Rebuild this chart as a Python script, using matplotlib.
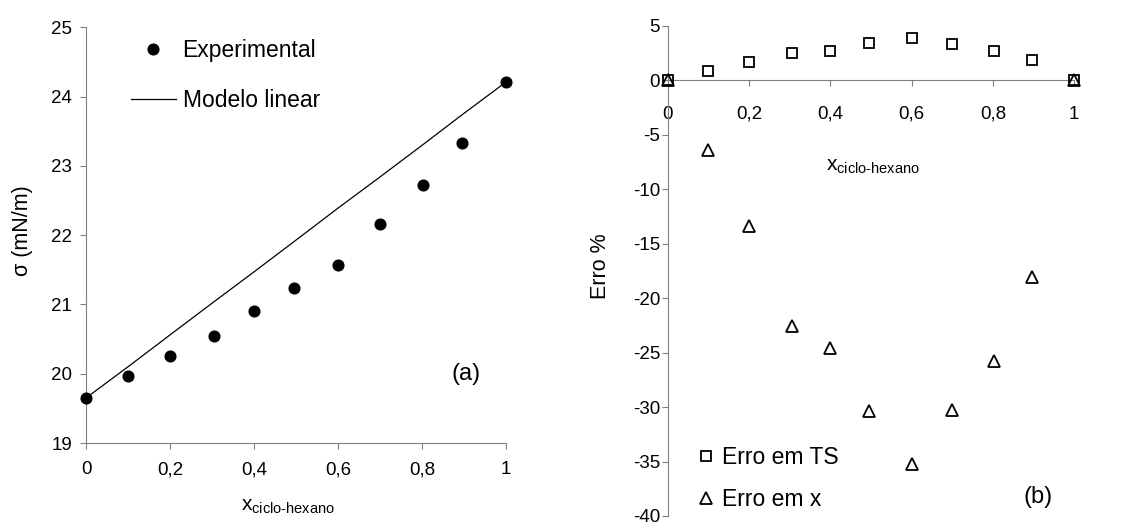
import numpy as np
import matplotlib
matplotlib.use("Agg")
from matplotlib import pyplot as plt

# panel (a): surface tension vs mole fraction
x_exp = [0, 0.1, 0.2, 0.305, 0.4, 0.496, 0.6, 0.7, 0.803, 0.896, 1.0]
sigma_exp = [19.65, 19.96, 20.25, 20.54, 20.91, 21.23, 21.57, 22.16, 22.72, 23.33, 24.21]
sigma_lin = [19.65, 20.10, 20.56, 21.04, 21.47, 21.91, 22.39, 22.84, 23.31, 23.74, 24.21]

# panel (b): percentage errors
x_err = [0, 0.1, 0.2, 0.305, 0.4, 0.496, 0.6, 0.7, 0.803, 0.896, 1.0]
err_ts = [0.0, 0.87, 1.64, 2.52, 2.71, 3.44, 3.84, 3.29, 2.71, 1.82, 0.0]
err_x = [0.0, -6.4, -13.4, -22.6, -24.6, -30.4, -35.2, -30.3, -25.8, -18.1, 0.0]

xticks = [0, 0.2, 0.4, 0.6, 0.8, 1.0]
xtick_labels = ["0", "0,2", "0,4", "0,6", "0,8", "1"]

plt.rcParams['font.family'] = ['Liberation Sans', 'DejaVu Sans']
plt.rcParams['mathtext.fontset'] = 'custom'
plt.rcParams['mathtext.rm'] = 'Liberation Sans'
plt.rcParams['mathtext.it'] = 'Liberation Sans'
plt.rcParams['axes.unicode_minus'] = False

W, H = 1125, 522
fig = plt.figure(figsize=(W / 100, H / 100), dpi=100)
spine_c = '#808080'
xlab = r'$\mathregular{x_{ciclo\text{-}hexano}}$'


def px_axes(l, r, t, b):
    return fig.add_axes([l / W, 1 - b / H, (r - l) / W, (b - t) / H])


# ---- panel (a)
ax1 = px_axes(86, 506, 27.3, 443)
ax1.plot(x_exp, sigma_lin, color='black', lw=0.9, label='Modelo linear', zorder=2)
ax1.plot(x_exp, sigma_exp, 'o', color='black', ms=7.7, label='Experimental', zorder=3,
         clip_on=False)
ax1.set_xlim(0, 1)
ax1.set_ylim(19, 25)
ax1.set_xticks(xticks)
ax1.set_xticklabels(xtick_labels)
ax1.set_yticks(range(19, 26))
for s in ['top', 'right']:
    ax1.spines[s].set_visible(False)
for s in ['left', 'bottom']:
    ax1.spines[s].set_color(spine_c)
ax1.tick_params(axis='both', colors=spine_c, labelcolor='black', labelsize=13.5,
                length=4, direction='out')
ax1.tick_params(axis='x', pad=9)
ax1.tick_params(axis='y', pad=6)
ax1.set_ylabel('σ (mN/m)', fontsize=15.5)
ax1.yaxis.set_label_coords(-0.126, 0.51)
ax1.text(0.48, -0.152, xlab, transform=ax1.transAxes, ha='center', va='center',
         fontsize=15)
ax1.text(0.906, 0.165, '(a)', transform=ax1.transAxes, ha='center', va='center',
         fontsize=17)
h, l = ax1.get_legend_handles_labels()
ax1.legend(h[::-1], l[::-1], loc='upper left', bbox_to_anchor=(0.107, 0.972),
           frameon=False, fontsize=16.5, handlelength=1.95, handletextpad=0.3,
           labelspacing=1.2, borderpad=0, borderaxespad=0)

# ---- panel (b)
ax2 = px_axes(667.7, 1074.3, 25.7, 516)
ax2.plot(x_err, err_ts, 's', mfc='none', mec='black', mew=1.3, ms=7.5,
         label='Erro em TS', clip_on=False, zorder=3)
ax2.plot(x_err, err_x, '^', mfc='none', mec='black', mew=1.3, ms=8.5,
         label='Erro em x', clip_on=False, zorder=3)
ax2.set_xlim(0, 1)
ax2.set_ylim(-40, 5)
ax2.set_xticks(xticks)
ax2.set_xticklabels(xtick_labels)
ax2.set_yticks(range(-40, 6, 5))
for s in ['top', 'right']:
    ax2.spines[s].set_visible(False)
ax2.spines['bottom'].set_position(('data', 0))
for s in ['left', 'bottom']:
    ax2.spines[s].set_color(spine_c)
ax2.tick_params(axis='both', colors=spine_c, labelcolor='black', labelsize=13.5,
                length=4.5, direction='out')
ax2.tick_params(axis='x', pad=14)
ax2.tick_params(axis='y', pad=1)
ax2.set_ylabel('Erro %', fontsize=15.5)
ax2.yaxis.set_label_coords(-0.14, 0.51)
ax2.text(0.505, 0.712, xlab, transform=ax2.transAxes, ha='center', va='center',
         fontsize=15)
ax2.text(0.911, 0.039, '(b)', transform=ax2.transAxes, ha='center', va='center',
         fontsize=17)
ax2.legend(loc='upper left', bbox_to_anchor=(0.072, 0.142), frameon=False,
           fontsize=16.5, handlelength=0.8, handletextpad=0.3, labelspacing=0.82,
           borderpad=0, borderaxespad=0)

fig.savefig('out.png', dpi=100)
